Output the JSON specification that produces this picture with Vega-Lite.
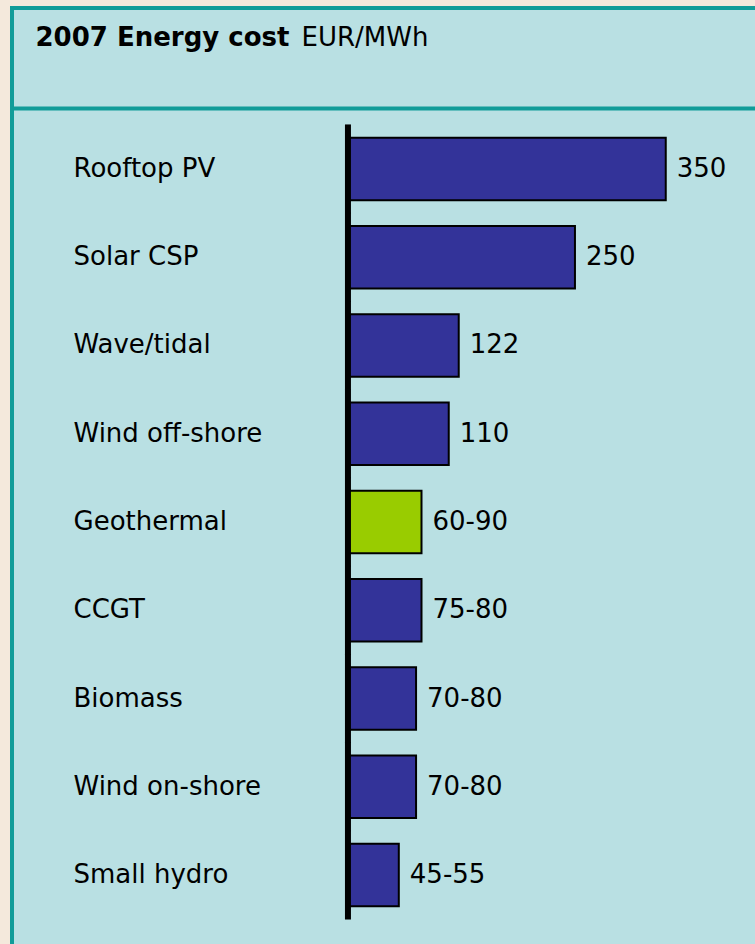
{
  "$schema": "https://vega.github.io/schema/vega-lite/v6.json",
  "width": 750,
  "height": 945,
  "autosize": {"type": "none"},
  "padding": {"left": 12, "top": 8, "right": 0, "bottom": 0},
  "background": "#f4e9dc",
  "config": {
    "view": {"fill": "#b9e0e3", "stroke": "#119c99", "strokeWidth": 4},
    "font": "DejaVu Sans"
  },
  "data": {
    "values": [
      {"source": "Rooftop PV", "value": 350, "label": "350", "group": "other"},
      {"source": "Solar CSP", "value": 250, "label": "250", "group": "other"},
      {"source": "Wave/tidal", "value": 122, "label": "122", "group": "other"},
      {"source": "Wind off-shore", "value": 111, "label": "110", "group": "other"},
      {"source": "Geothermal", "value": 81, "label": "60-90", "group": "focus"},
      {"source": "CCGT", "value": 81, "label": "75-80", "group": "other"},
      {"source": "Biomass", "value": 75, "label": "70-80", "group": "other"},
      {"source": "Wind on-shore", "value": 75, "label": "70-80", "group": "other"},
      {"source": "Small hydro", "value": 56, "label": "45-55", "group": "other"}
    ]
  },
  "encoding": {
    "y": {
      "field": "source",
      "type": "nominal",
      "sort": null,
      "scale": {"paddingInner": 0.293, "paddingOuter": 1.031, "align": 0.735},
      "axis": {
        "domain": false,
        "ticks": false,
        "tickSize": 0,
        "grid": false,
        "labelAlign": "left",
        "labelBaseline": "middle",
        "labelPadding": -61,
        "labelFontSize": 26,
        "labelFont": "DejaVu Sans",
        "labelColor": "black",
        "labelLimit": 0,
        "title": "2007 Energy cost",
        "titleAngle": 0,
        "titleX": 23,
        "titleY": 37,
        "titleAlign": "left",
        "titleBaseline": "alphabetic",
        "titleFontSize": 26,
        "titleFontWeight": "bold",
        "titleFont": "DejaVu Sans",
        "titleColor": "black"
      }
    },
    "x": {
      "field": "value",
      "type": "quantitative",
      "scale": {"domain": [-370, 456], "nice": false, "zero": false},
      "axis": {
        "orient": "top",
        "offset": -100,
        "domain": true,
        "domainColor": "#119c99",
        "domainWidth": 4,
        "labels": false,
        "ticks": false,
        "grid": false,
        "title": "EUR/MWh",
        "titleX": 289,
        "titleY": -63,
        "titleAlign": "left",
        "titleBaseline": "alphabetic",
        "titleFontSize": 26,
        "titleFontWeight": "normal",
        "titleFont": "DejaVu Sans",
        "titleColor": "black"
      }
    }
  },
  "layer": [
    {
      "mark": {"type": "bar", "stroke": "black", "strokeWidth": 2},
      "encoding": {
        "x2": {"datum": 0},
        "fill": {
          "field": "group",
          "type": "nominal",
          "scale": {"domain": ["other", "focus"], "range": ["#333399", "#99cc00"]},
          "legend": null
        }
      }
    },
    {
      "mark": {"type": "text", "align": "left", "baseline": "middle", "dx": 11, "fontSize": 26, "font": "DejaVu Sans", "color": "black"},
      "encoding": {
        "text": {"field": "label"}
      }
    },
    {
      "mark": {"type": "tick", "color": "black", "size": 89, "thickness": 6, "opacity": 1},
      "encoding": {
        "x": {"datum": 0}
      }
    }
  ]
}
